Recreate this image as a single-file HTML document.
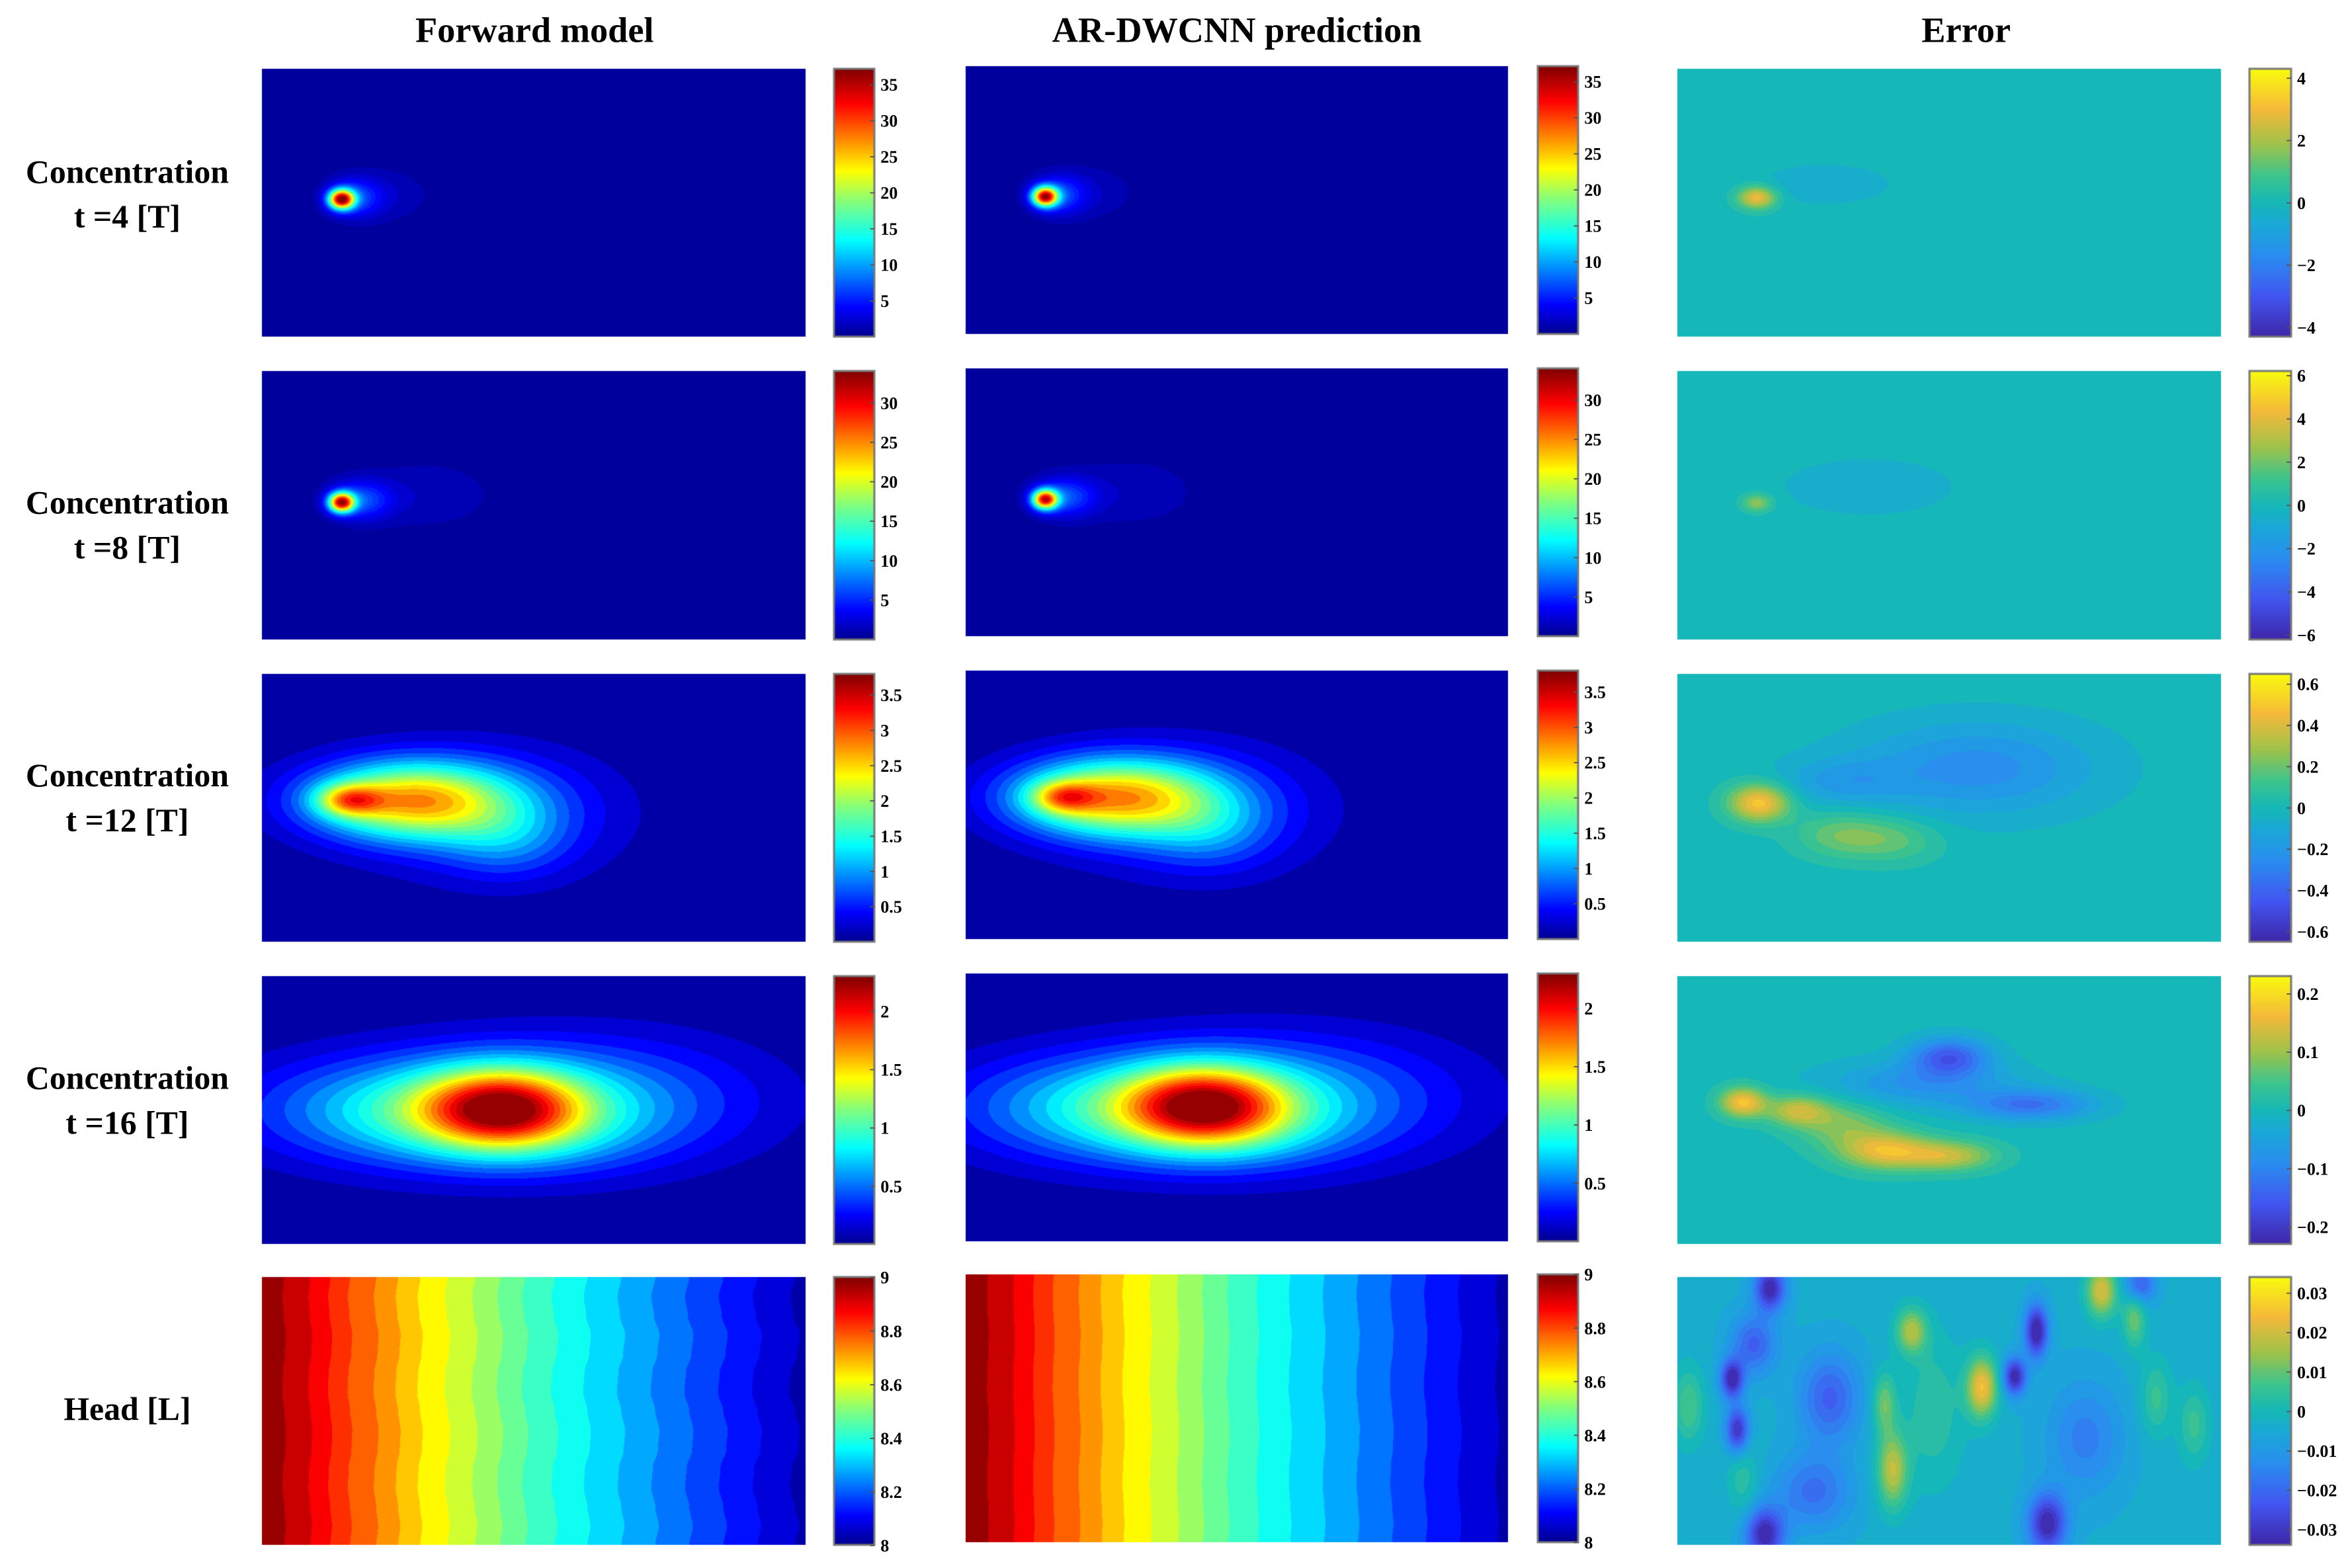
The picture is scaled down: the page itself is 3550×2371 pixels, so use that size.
<!DOCTYPE html>
<html><head><meta charset="utf-8">
<style>
html,body{margin:0;padding:0;background:#fff;}
#wrap{position:relative;width:3550px;height:2371px;overflow:hidden;}
#cv{position:absolute;left:0;top:0;}
#ov{position:absolute;left:0;top:0;}
text{font-family:"Liberation Serif",serif;font-weight:bold;fill:#000;}
</style></head>
<body>
<div id="wrap">
<canvas id="cv" width="3550" height="2371"></canvas>
<svg id="ov" width="3550" height="2371" viewBox="0 0 1568 1047" preserveAspectRatio="none">
<text x="357" y="28" font-size="24" text-anchor="middle">Forward model</text>
<text x="826" y="28" font-size="24" text-anchor="middle">AR-DWCNN prediction</text>
<text x="1313" y="28" font-size="24" text-anchor="middle">Error</text>
<g font-size="22" text-anchor="middle">
<text x="85" y="122"><tspan x="85">Concentration</tspan><tspan x="85" dy="30">t =4 [T]</tspan></text>
<text x="85" y="343"><tspan x="85">Concentration</tspan><tspan x="85" dy="30">t =8 [T]</tspan></text>
<text x="85" y="525"><tspan x="85">Concentration</tspan><tspan x="85" dy="30">t =12 [T]</tspan></text>
<text x="85" y="727"><tspan x="85">Concentration</tspan><tspan x="85" dy="30">t =16 [T]</tspan></text>
<text x="85" y="948">Head [L]</text>
</g>
<g id="ticks"></g>
</svg>
</div>
<script>
// ---- data ----
const colX=[[175,538],[645,1007],[1120,1483]];
const cbX=[[557,584],[1027,1054],[1502,1530]];
const rowY=[[46,225],[248,427],[450,629],[652,831],[853,1032]];
const colDy=[0,-2,0];
const concRange=[[0,37.2],[0,34],[0,3.8],[0,2.3],[8,9]];
const errRange=[[-4.3,4.3],[-6.2,6.2],[-0.65,0.65],[-0.23,0.23],[-0.034,0.034]];
const concTicks=[[5,10,15,20,25,30,35],[5,10,15,20,25,30],[0.5,1,1.5,2,2.5,3,3.5],[0.5,1,1.5,2],[8,8.2,8.4,8.6,8.8,9]];
const errTicks=[[-4,-2,0,2,4],[-6,-4,-2,0,2,4,6],[-0.6,-0.4,-0.2,0,0.2,0.4,0.6],[-0.2,-0.1,0,0.1,0.2],[-0.03,-0.02,-0.01,0,0.01,0.02,0.03]];
const fwdBlobs=[
 [[0.146,0.486,0.016,0.025,34],[0.17,0.48,0.035,0.05,6],[0.23,0.47,0.07,0.08,1.5]],
 [[0.146,0.488,0.016,0.025,30],[0.18,0.48,0.04,0.05,6],[0.3,0.46,0.1,0.1,1.5]],
 [[0.16,0.47,0.04,0.04,1.4],[0.27,0.47,0.13,0.1,2.4],[0.42,0.52,0.17,0.17,0.6],[0.45,0.62,0.08,0.1,0.5]],
 [[0.44,0.49,0.1,0.1,1.3],[0.32,0.5,0.22,0.14,0.9],[0.62,0.46,0.22,0.17,0.45],[0.5,0.6,0.15,0.1,0.2]]
];
const predBlobs=[
 [[0.146,0.486,0.016,0.025,32],[0.17,0.48,0.035,0.05,6],[0.23,0.47,0.07,0.08,1.5]],
 [[0.146,0.488,0.016,0.025,28],[0.18,0.48,0.04,0.05,6],[0.3,0.46,0.1,0.1,1.5]],
 [[0.18,0.47,0.04,0.04,1.2],[0.27,0.47,0.13,0.1,2.4],[0.42,0.52,0.17,0.17,0.6],[0.45,0.6,0.08,0.1,0.45]],
 [[0.44,0.49,0.1,0.1,1.3],[0.32,0.5,0.22,0.14,0.9],[0.62,0.46,0.22,0.17,0.45],[0.5,0.6,0.15,0.1,0.2]]
];
const errBlobs=[
 [[0.146,0.48,0.025,0.03,3],[0.27,0.43,0.08,0.05,-0.6]],
 [[0.146,0.49,0.02,0.025,2.6],[0.35,0.43,0.15,0.1,-0.5]],
 [[0.15,0.48,0.04,0.05,0.5],[0.3,0.6,0.06,0.06,0.2],[0.4,0.62,0.06,0.06,0.16],[0.55,0.35,0.15,0.12,-0.25],[0.3,0.4,0.08,0.06,-0.15]],
 [[0.12,0.47,0.03,0.04,0.17],[0.22,0.5,0.04,0.04,0.12],[0.38,0.65,0.06,0.05,0.15],[0.5,0.67,0.06,0.04,0.12],[0.3,0.55,0.06,0.06,0.08],[0.5,0.3,0.05,0.05,-0.15],[0.65,0.48,0.08,0.04,-0.12],[0.45,0.4,0.12,0.06,-0.08]],
 [[0.56,0.41,0.02,0.08,0.028],[0.43,0.2,0.02,0.06,0.02],[0.395,0.72,0.02,0.1,0.022],[0.78,0.05,0.02,0.07,0.025],[0.84,0.15,0.015,0.08,0.015],[0.38,0.47,0.015,0.08,0.015],[0.02,0.48,0.02,0.1,0.012],[0.95,0.55,0.02,0.1,0.01],[0.88,0.45,0.02,0.1,0.01],[0.47,0.5,0.04,0.2,0.008],[0.12,0.75,0.02,0.1,0.008],
  [0.17,0.04,0.02,0.06,-0.03],[0.66,0.2,0.015,0.07,-0.032],[0.1,0.38,0.015,0.05,-0.03],[0.11,0.57,0.015,0.06,-0.028],[0.62,0.37,0.015,0.05,-0.03],[0.16,0.96,0.025,0.07,-0.03],[0.68,0.92,0.025,0.08,-0.03],[0.14,0.25,0.03,0.08,-0.018],[0.28,0.45,0.04,0.12,-0.018],[0.85,0.03,0.02,0.05,-0.02],[0.25,0.8,0.05,0.1,-0.015],[0.75,0.6,0.05,0.15,-0.012]]
];
const errOffset=[0,0,0,0,-0.004];
const headFwd=[9.0,8.93,8.85,8.77,8.7,8.63,8.56,8.5,8.44,8.38,8.33,8.28,8.23,8.18,8.13,8.08,8.04];
const headPred=[9.0,8.93,8.85,8.77,8.7,8.63,8.56,8.5,8.44,8.38,8.33,8.28,8.23,8.18,8.13,8.08,8.04];
const headWobble=[0.0,0.006,0.002,-0.006,-0.003,0.005,0.007,0.0,-0.006,-0.004,0.004,0.006,0.0,-0.005,0.0];

// ---- helpers ----
const S=3550/1568;
const ctx=document.getElementById('cv').getContext('2d');
function lerpStops(stops,t){t=Math.max(0,Math.min(1,t));for(let i=1;i<stops.length;i++){if(t<=stops[i][0]){const a=stops[i-1],b=stops[i];const f=(t-a[0])/(b[0]-a[0]||1);return [0,1,2].map(k=>Math.round(a[1][k]+(b[1][k]-a[1][k])*f));}}return stops[stops.length-1][1];}
const JET=[[0,[0,0,143]],[0.11,[0,0,255]],[0.36,[0,255,255]],[0.5,[128,255,128]],[0.62,[255,255,0]],[0.87,[255,0,0]],[1,[128,0,0]]];
const PAR=[[0,[62,38,168]],[0.15,[66,85,240]],[0.3,[42,140,240]],[0.42,[26,168,216]],[0.5,[22,183,184]],[0.6,[60,196,142]],[0.72,[160,194,74]],[0.85,[245,185,58]],[1,[249,251,14]]];
function blobs(bl,u,v){let s=0;for(const b of bl){const dx=(u-b[0])/b[2],dy=(v-b[1])/b[3];s+=b[4]*Math.exp(-0.5*(dx*dx+dy*dy));}return s;}
function interpArr(a,t){t=Math.max(0,Math.min(1,t))*(a.length-1);const i=Math.min(a.length-2,Math.floor(t));const f=t-i;const g=f*f*(3-2*f);return a[i]*(1-g)+a[i+1]*g;}
function drawField(x0,x1,y0,y1,fn,rng,map,nlev){
 const X0=Math.round(x0*S),X1=Math.round(x1*S),Y0=Math.round(y0*S),Y1=Math.round(y1*S);
 const w=X1-X0,h=Y1-Y0;const img=ctx.createImageData(w,h);
 for(let j=0;j<h;j++){for(let i=0;i<w;i++){
  const val=fn(i/w,j/h);let t=(val-rng[0])/(rng[1]-rng[0]);
  t=Math.max(0,Math.min(0.9999,t));t=(Math.floor(t*nlev)+0.5)/nlev;
  const c=lerpStops(map,t);const k=(j*w+i)*4;img.data[k]=c[0];img.data[k+1]=c[1];img.data[k+2]=c[2];img.data[k+3]=255;}}
 ctx.putImageData(img,X0,Y0);
}
function drawBar(x0,x1,y0,y1,map){
 const X0=Math.round(x0*S),X1=Math.round(x1*S),Y0=Math.round(y0*S),Y1=Math.round(y1*S);
 for(let j=Y0;j<Y1;j++){const c=lerpStops(map,(Y1-j)/(Y1-Y0));ctx.fillStyle=`rgb(${c})`;ctx.fillRect(X0,j,X1-X0,1);}
 ctx.strokeStyle='#777';ctx.lineWidth=3;ctx.strokeRect(X0,Y0,X1-X0,Y1-Y0);
}
const tg=document.getElementById('ticks');
const NS='http://www.w3.org/2000/svg';
function ticks(cb,y0,y1,rng,tk,name){
 for(const v of tk){const y=y1-(v-rng[0])/(rng[1]-rng[0])*(y1-y0);
  const l=document.createElementNS(NS,'line');l.setAttribute('x1',cb[1]);l.setAttribute('x2',cb[1]-3);l.setAttribute('y1',y);l.setAttribute('y2',y);l.setAttribute('stroke','#555');l.setAttribute('stroke-width','0.8');
  
  
  tg.appendChild(l);
  const t=document.createElementNS(NS,'text');t.setAttribute('x',cb[1]+4);t.setAttribute('y',y+4);t.setAttribute('font-size','11.5');
  t.textContent=(v<0?'\u2212'+String(-v):String(v));
  
  
  tg.appendChild(t);}
}
for(let r=0;r<5;r++){
 for(let c=0;c<3;c++){
  const y0=rowY[r][0]+colDy[c],y1=rowY[r][1]+colDy[c];
  let fn,rng,map,nl;
  if(c<2){
   rng=concRange[r];map=JET;
   if(r<4){const bl=(c==0?fwdBlobs:predBlobs)[r];fn=(u,v)=>blobs(bl,u,v);nl=r<2?40:22;}
   else{const hp=c==0?headFwd:headPred;const k=c==0?1:0.4;fn=(u,v)=>interpArr(hp,u+interpArr(headWobble,v)*k*(0.5+u));nl=20;}
  }else{rng=errRange[r];map=PAR;const bl=errBlobs[r],off=errOffset[r];fn=(u,v)=>blobs(bl,u,v)+off;nl=21;}
  drawField(colX[c][0],colX[c][1],y0,y1,fn,rng,map,nl);
  drawBar(cbX[c][0],cbX[c][1],y0,y1,map);
  ticks(cbX[c],y0,y1,c<2?concRange[r]:errRange[r],c<2?concTicks[r]:errTicks[r],'colorbar-r'+(r+1)+'-c'+(c+1));
 }
}
</script>
</body></html>
